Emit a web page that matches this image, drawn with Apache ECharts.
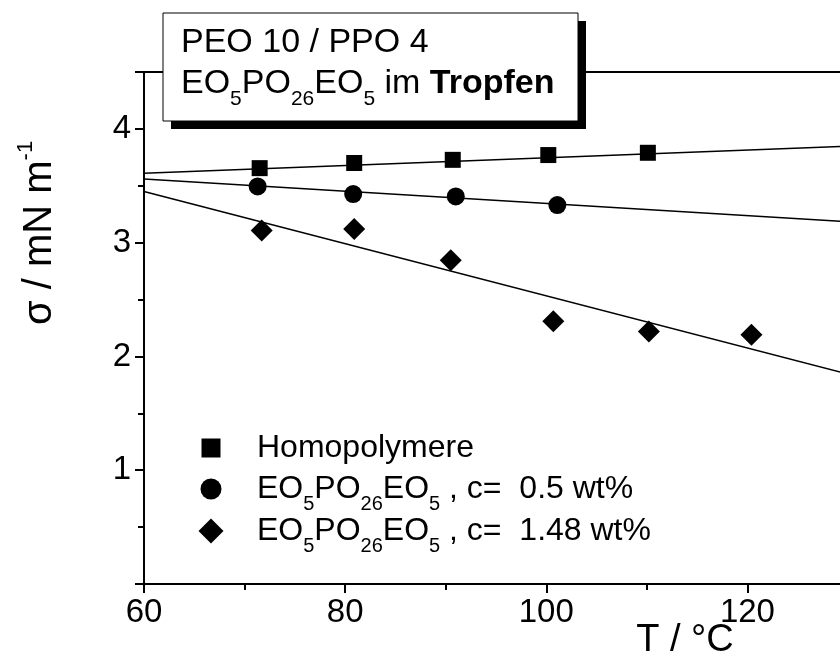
<!DOCTYPE html>
<html>
<head>
<meta charset="utf-8">
<script src="https://cdn.jsdelivr.net/npm/echarts@6/dist/echarts.min.js"></script>
<style>
  html, body { margin: 0; padding: 0; background: #fff; }
  #chart { width: 840px; height: 661px; }
</style>
</head>
<body>
<div id="chart"></div>
<script>
// Surface tension vs. temperature, PEO 10 / PPO 4 drop with EO5PO26EO5
const tHomo = [71.5, 80.9, 90.7, 100.2, 110.1];
const sigmaHomo = [3.655, 3.70, 3.728, 3.77, 3.79];

const tC05 = [71.3, 80.8, 91.0, 101.1];
const sigmaC05 = [3.494, 3.427, 3.406, 3.33];

const tC148 = [71.7, 80.9, 90.5, 100.7, 110.2, 120.4];
const sigmaC148 = [3.108, 3.12, 2.845, 2.31, 2.22, 2.19];

// linear fits, end points [T, sigma]
const fitHomo = [[60, 3.61], [130, 3.847]];
const fitC05 = [[60, 3.56], [130, 3.183]];
const fitC148 = [[60, 3.45], [130, 1.845]];

const xTicks = [60, 80, 100, 120];
const yTicks = [1, 2, 3, 4];

const FONT = '"Liberation Sans", Arial, sans-serif';

const pair = (xs, ys) => xs.map((x, i) => [x, ys[i]]);

const chart = echarts.init(document.getElementById('chart'), null, { renderer: 'canvas' });

const subRich = {
  n: { fontSize: 32, fontFamily: FONT, color: '#000' },
  s: { fontSize: 20, fontFamily: FONT, color: '#000', padding: [30, 0, 0, 0] }
};

const fitLine = (data) => ({
  type: 'line',
  data: data,
  showSymbol: false,
  silent: true,
  lineStyle: { color: '#000', width: 1.5 },
  z: 2
});

const scatter = (data, symbol, size) => ({
  type: 'scatter',
  data: data,
  symbol: symbol,
  symbolSize: size,
  itemStyle: { color: '#000', opacity: 1 },
  z: 3
});

const legendRows = [
  { y: 448, symbol: 'rect', size: 19, text: '{n|Homopolymere}' },
  { y: 489, symbol: 'circle', size: 21, text: '{n|EO}{s|5}{n|PO}{s|26}{n|EO}{s|5}{n| , c=  0.5 wt%}' },
  { y: 531, symbol: 'diamond', size: 25, text: '{n|EO}{s|5}{n|PO}{s|26}{n|EO}{s|5}{n| , c=  1.48 wt%}' }
];

function legendMarker(row) {
  const cx = 211, cy = row.y, h = row.size / 2;
  if (row.symbol === 'rect') {
    return { type: 'rect', shape: { x: cx - h, y: cy - h, width: row.size, height: row.size }, style: { fill: '#000' } };
  }
  if (row.symbol === 'circle') {
    return { type: 'circle', shape: { cx: cx, cy: cy, r: h }, style: { fill: '#000' } };
  }
  return { type: 'polygon', shape: { points: [[cx, cy - h], [cx + h, cy], [cx, cy + h], [cx - h, cy]] }, style: { fill: '#000' } };
}

const graphics = [];
legendRows.forEach(row => {
  graphics.push(legendMarker(row));
  graphics.push({
    type: 'text',
    x: 257, y: row.y,
    style: { text: row.text, rich: subRich, verticalAlign: 'middle', align: 'left' }
  });
});

// title box with drop shadow
graphics.push({ type: 'rect', shape: { x: 171, y: 21, width: 415, height: 108 }, style: { fill: '#000' }, z: 10 });
graphics.push({ type: 'rect', shape: { x: 163, y: 13, width: 415, height: 108 }, style: { fill: '#fff', stroke: '#000', lineWidth: 1 }, z: 11 });
graphics.push({
  type: 'text', x: 181, y: 43, z: 12,
  style: { text: 'PEO 10 / PPO 4', font: '34px ' + FONT, fill: '#000', verticalAlign: 'middle', align: 'left' }
});
graphics.push({
  type: 'text', x: 181, y: 84, z: 12,
  style: {
    text: '{n|EO}{s|5}{n|PO}{s|26}{n|EO}{s|5}{n| im }{b|Tropfen}',
    verticalAlign: 'middle', align: 'left',
    rich: {
      n: { fontSize: 34, fontFamily: FONT, color: '#000' },
      s: { fontSize: 21, fontFamily: FONT, color: '#000', padding: [30, 0, 0, 0] },
      b: { fontSize: 34, fontFamily: FONT, fontWeight: 'bold', color: '#000' }
    }
  }
});
// axis titles
graphics.push({
  type: 'text', x: 685, y: 641,
  style: { text: 'T / °C', font: '38px ' + FONT, fill: '#000', verticalAlign: 'middle', align: 'center' }
});
graphics.push({
  type: 'text', x: 40, y: 233, rotation: Math.PI / 2,
  style: {
    text: '{n|σ / mN m}{sup|-1}',
    verticalAlign: 'middle', align: 'center',
    rich: {
      n: { fontSize: 40, fontFamily: FONT, color: '#000' },
      sup: { fontSize: 22, fontFamily: FONT, color: '#000', padding: [0, 0, 28, 0] }
    }
  }
});

const option = {
  animation: false,
  backgroundColor: '#fff',
  grid: {
    left: 144, top: 72, width: 704, height: 512,
    containLabel: false, outerBoundsMode: 'none'
  },
  xAxis: [{
    type: 'value',
    min: 60, max: 130, interval: 20,
    axisLine: { show: true, onZero: false, lineStyle: { color: '#000', width: 2 } },
    axisTick: { show: true, length: 9, lineStyle: { color: '#000', width: 2 } },
    minorTick: { show: true, splitNumber: 2, length: 6, lineStyle: { color: '#000', width: 2 } },
    splitLine: { show: false },
    axisLabel: {
      margin: 12, fontSize: 33, fontFamily: FONT, color: '#000',
      formatter: v => (xTicks.indexOf(v) >= 0 ? String(v) : '')
    }
  }, {
    type: 'value', position: 'top',
    min: 60, max: 130,
    axisLine: { show: true, onZero: false, lineStyle: { color: '#000', width: 2 } },
    axisTick: { show: false }, axisLabel: { show: false }, splitLine: { show: false }
  }],
  yAxis: {
    type: 'value',
    min: 0, max: 4.5, interval: 1,
    axisLine: { show: true, onZero: false, lineStyle: { color: '#000', width: 2 } },
    axisTick: { show: true, length: 9, lineStyle: { color: '#000', width: 2 } },
    minorTick: { show: true, splitNumber: 2, length: 6, lineStyle: { color: '#000', width: 2 } },
    splitLine: { show: false },
    axisLabel: {
      margin: 13, fontSize: 33, fontFamily: FONT, color: '#000',
      formatter: v => (yTicks.indexOf(v) >= 0 ? String(v) : '')
    }
  },
  series: [
    fitLine(fitHomo),
    fitLine(fitC05),
    fitLine(fitC148),
    scatter(pair(tHomo, sigmaHomo), 'rect', 16),
    scatter(pair(tC05, sigmaC05), 'circle', 18),
    scatter(pair(tC148, sigmaC148), 'diamond', 22)
  ],
  graphic: graphics
};

chart.setOption(option);
</script>
</body>
</html>
